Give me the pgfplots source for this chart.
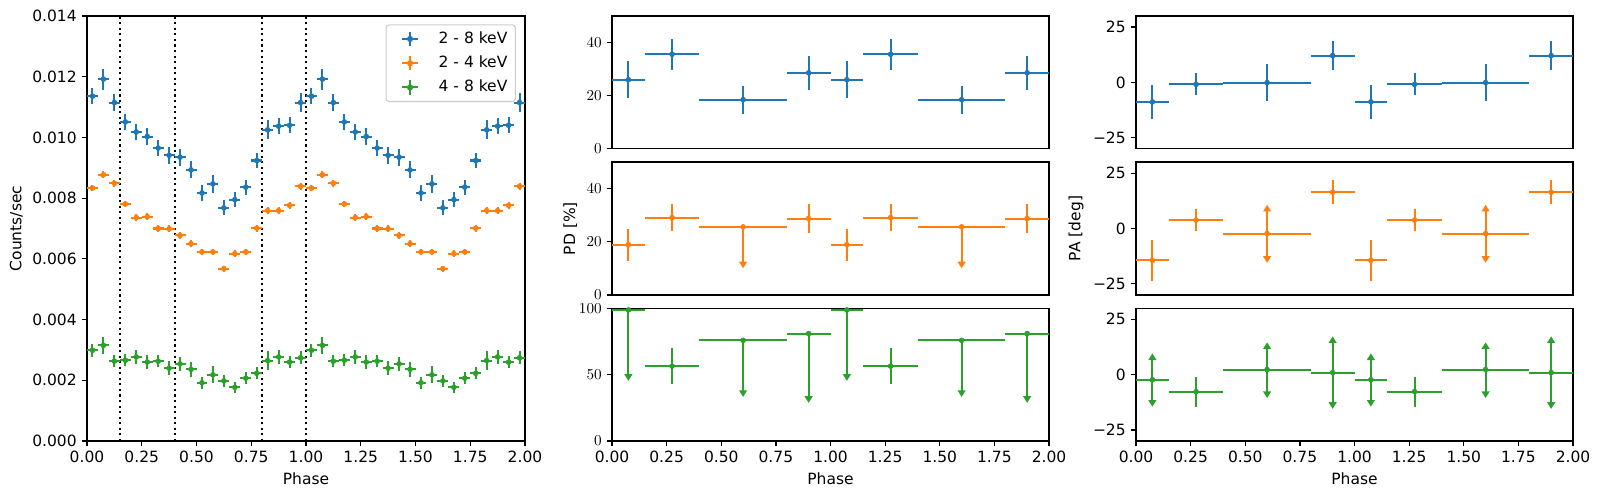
\documentclass[border=0pt]{standalone}
\usepackage{pgfplots}
\pgfplotsset{compat=1.18}
\usetikzlibrary{arrows.meta}
\usepackage{fontspec}
\setmainfont{DejaVu Sans}
\definecolor{tabblue}{HTML}{1F77B4}
\definecolor{taborange}{HTML}{FF7F0E}
\definecolor{tabgreen}{HTML}{2CA02C}
\newcommand{\fs}{\fontsize{11.2}{13.4}\selectfont}
\pgfplotsset{
  mpl/.style={scale only axis, anchor=south west,
    axis line style={line width=0.9bp},
    tick style={line width=0.9bp, black},
    tick align=outside, major tick length=3.9bp, tick pos=left,
    ticklabel style={font=\fs}, label style={font=\fs},
    xmin=0, xmax=2, xtick={0,0.25,0.5,0.75,1,1.25,1.5,1.75,2},
    xticklabels={0.00,0.25,0.50,0.75,1.00,1.25,1.50,1.75,2.00}},
  base/.style={color=#1, only marks, mark=*, mark size=1.8bp,
    mark options={fill=#1, draw=none},
    error bars/error bar style={line width=1.45bp, #1}},
  eb/.style={base=#1,
    error bars/x dir=both, error bars/x explicit, error bars/y dir=both, error bars/y explicit,
    error bars/error mark=none},
  ebx/.style={base=#1,
    error bars/x dir=both, error bars/x explicit, error bars/error mark=none},
  lim/.style={#1, line width=1.45bp, -{Triangle[width=5.6bp,length=4.8bp]},
    quiver={u=0, v=\thisrow{v}}},
  vl/.style={black, line width=1.5bp, dash pattern=on 1.5bp off 2.5bp, forget plot},
  leg/.style={legend image code/.code={\path[draw=none, fill=none] (0bp,-5.5bp) rectangle (32.1bp,5.5bp);
    \draw[#1, line width=1.45bp] (5.7bp,0bp)--(17.2bp,0bp) (11.45bp,-5.2bp)--(11.45bp,5.2bp);
    \fill[#1] (11.45bp,0bp) circle (1.8bp);}},
}
\begin{document}
\begin{tikzpicture}
\useasboundingbox (0,0) rectangle (1152.72bp,357.12bp);
% ---------------- left panel
\begin{axis}[mpl, at={(62.64bp,39.6bp)}, width=315.36bp, height=306bp,
  ymin=0, ymax=0.014, scaled y ticks=false,
  ytick={0,0.002,0.004,0.006,0.008,0.010,0.012,0.014},
  yticklabels={0.000,0.002,0.004,0.006,0.008,0.010,0.012,0.014},
  xlabel={Phase}, ylabel={Counts/sec},
  legend cell align=left,
  legend style={at={(1,1)}, anchor=north east, xshift=-6.5bp, yshift=-6bp,
    draw=black!20, line width=0.8bp, rounded corners=2.2bp, fill=white,
    font=\fs, inner xsep=5.8bp, inner ysep=4.2bp, row sep=5.6bp, column sep=0pt,
    nodes={inner xsep=0pt, inner ysep=0pt, text height=8.4bp, text depth=2.4bp}},
]
\addplot[vl] coordinates {(0.15,0) (0.15,0.014)};
\addplot[vl] coordinates {(0.4,0) (0.4,0.014)};
\addplot[vl] coordinates {(0.8,0) (0.8,0.014)};
\addplot[vl] coordinates {(1.0,0) (1.0,0.014)};
\addplot[forget plot, eb=tabblue] table[x=x, y=y, x error=ex, y error=ey] {
x y ex ey
0.025 0.01136 0.025 0.00026
0.075 0.01192 0.025 0.00035
0.125 0.01115 0.025 0.00027
0.175 0.01051 0.025 0.00027
0.225 0.01018 0.025 0.00027
0.275 0.01003 0.025 0.00027
0.325 0.00965 0.025 0.00027
0.375 0.00941 0.025 0.00027
0.425 0.00935 0.025 0.00028
0.475 0.00893 0.025 0.00028
0.525 0.00817 0.025 0.00025
0.575 0.00847 0.025 0.00030
0.625 0.00768 0.025 0.00025
0.675 0.00795 0.025 0.00025
0.725 0.00836 0.025 0.00025
0.775 0.00924 0.025 0.00026
0.825 0.01025 0.025 0.00031
0.875 0.01037 0.025 0.00027
0.925 0.01040 0.025 0.00027
0.975 0.01115 0.025 0.00030
1.025 0.01136 0.025 0.00026
1.075 0.01192 0.025 0.00035
1.125 0.01115 0.025 0.00027
1.175 0.01051 0.025 0.00027
1.225 0.01018 0.025 0.00027
1.275 0.01003 0.025 0.00027
1.325 0.00965 0.025 0.00027
1.375 0.00941 0.025 0.00027
1.425 0.00935 0.025 0.00028
1.475 0.00893 0.025 0.00028
1.525 0.00817 0.025 0.00025
1.575 0.00847 0.025 0.00030
1.625 0.00768 0.025 0.00025
1.675 0.00795 0.025 0.00025
1.725 0.00836 0.025 0.00025
1.775 0.00924 0.025 0.00026
1.825 0.01025 0.025 0.00031
1.875 0.01037 0.025 0.00027
1.925 0.01040 0.025 0.00027
1.975 0.01115 0.025 0.00030
};
\addplot[forget plot, eb=taborange] table[x=x, y=y, x error=ex, y error=ey] {
x y ex ey
0.025 0.00833 0.025 0.00011
0.075 0.00877 0.025 0.00011
0.125 0.00849 0.025 0.00011
0.175 0.00781 0.025 0.00011
0.225 0.00736 0.025 0.00011
0.275 0.00739 0.025 0.00011
0.325 0.00700 0.025 0.00011
0.375 0.00699 0.025 0.00011
0.425 0.00677 0.025 0.00011
0.475 0.00650 0.025 0.00011
0.525 0.00623 0.025 0.00011
0.575 0.00623 0.025 0.00011
0.625 0.00568 0.025 0.00010
0.675 0.00617 0.025 0.00011
0.725 0.00623 0.025 0.00011
0.775 0.00701 0.025 0.00011
0.825 0.00759 0.025 0.00011
0.875 0.00759 0.025 0.00011
0.925 0.00776 0.025 0.00011
0.975 0.00839 0.025 0.00011
1.025 0.00833 0.025 0.00011
1.075 0.00877 0.025 0.00011
1.125 0.00849 0.025 0.00011
1.175 0.00781 0.025 0.00011
1.225 0.00736 0.025 0.00011
1.275 0.00739 0.025 0.00011
1.325 0.00700 0.025 0.00011
1.375 0.00699 0.025 0.00011
1.425 0.00677 0.025 0.00011
1.475 0.00650 0.025 0.00011
1.525 0.00623 0.025 0.00011
1.575 0.00623 0.025 0.00011
1.625 0.00568 0.025 0.00010
1.675 0.00617 0.025 0.00011
1.725 0.00623 0.025 0.00011
1.775 0.00701 0.025 0.00011
1.825 0.00759 0.025 0.00011
1.875 0.00759 0.025 0.00011
1.925 0.00776 0.025 0.00011
1.975 0.00839 0.025 0.00011
};
\addplot[forget plot, eb=tabgreen] table[x=x, y=y, x error=ex, y error=ey] {
x y ex ey
0.025 0.00299 0.025 0.00022
0.075 0.00315 0.025 0.00028
0.125 0.00263 0.025 0.00020
0.175 0.00266 0.025 0.00020
0.225 0.00277 0.025 0.00022
0.275 0.00260 0.025 0.00024
0.325 0.00263 0.025 0.00020
0.375 0.00240 0.025 0.00022
0.425 0.00254 0.025 0.00022
0.475 0.00236 0.025 0.00024
0.525 0.00192 0.025 0.00020
0.575 0.00218 0.025 0.00028
0.625 0.00198 0.025 0.00020
0.675 0.00177 0.025 0.00018
0.725 0.00207 0.025 0.00020
0.775 0.00223 0.025 0.00020
0.825 0.00265 0.025 0.00030
0.875 0.00277 0.025 0.00022
0.925 0.00260 0.025 0.00020
0.975 0.00274 0.025 0.00022
1.025 0.00299 0.025 0.00022
1.075 0.00315 0.025 0.00028
1.125 0.00263 0.025 0.00020
1.175 0.00266 0.025 0.00020
1.225 0.00277 0.025 0.00022
1.275 0.00260 0.025 0.00024
1.325 0.00263 0.025 0.00020
1.375 0.00240 0.025 0.00022
1.425 0.00254 0.025 0.00022
1.475 0.00236 0.025 0.00024
1.525 0.00192 0.025 0.00020
1.575 0.00218 0.025 0.00028
1.625 0.00198 0.025 0.00020
1.675 0.00177 0.025 0.00018
1.725 0.00207 0.025 0.00020
1.775 0.00223 0.025 0.00020
1.825 0.00265 0.025 0.00030
1.875 0.00277 0.025 0.00022
1.925 0.00260 0.025 0.00020
1.975 0.00274 0.025 0.00022
};
\addlegendimage{leg=tabblue}
\addlegendentry{2 - 8 keV}
\addlegendimage{leg=taborange}
\addlegendentry{2 - 4 keV}
\addlegendimage{leg=tabgreen}
\addlegendentry{4 - 8 keV}
\end{axis}
% ---------------- middle column: PD
\begin{axis}[mpl, at={(440.64bp,250.0bp)}, width=314.64bp, height=95.6bp,
  xtick=\empty, ymin=0, ymax=50, ytick={0,20,40}]
\addplot[eb=tabblue] table[x=x, y=y, x error=ex, y error=ey] {
x y ex ey
0.075 26.0 0.075 7.0
0.275 35.6 0.125 5.9
0.6 18.5 0.2 5.3
0.9 28.6 0.1 6.4
1.075 26.0 0.075 7.0
1.275 35.6 0.125 5.9
1.6 18.5 0.2 5.3
1.9 28.6 0.1 6.4
};
\end{axis}
\begin{axis}[mpl, at={(440.64bp,144.8bp)}, width=314.64bp, height=95.6bp,
  xtick=\empty, ymin=0, ymax=50, ytick={0,20,40}, ylabel={PD [\%]}]
\addplot[eb=taborange] table[x=x, y=y, x error=ex, y error=ey] {
x y ex ey
0.075 18.9 0.075 6.0
0.275 29.1 0.125 5.0
0.9 28.75 0.1 5.5
1.075 18.9 0.075 6.0
1.275 29.1 0.125 5.0
1.9 28.75 0.1 5.5
};
\addplot[lim=taborange] table[x=x, y=y] {
x y v
0.6 25.6 -15.6
1.6 25.6 -15.6
};
\addplot[ebx=taborange] table[x=x, y=y, x error=ex] {
x y ex
0.6 25.6 0.2
1.6 25.6 0.2
};
\end{axis}
\begin{axis}[mpl, at={(440.64bp,39.6bp)}, width=314.64bp, height=95.6bp,
  ymin=0, ymax=100, ytick={0,50,100}, xlabel={Phase}]
\addplot[eb=tabgreen] table[x=x, y=y, x error=ex, y error=ey] {
x y ex ey
0.275 56.4 0.125 13.5
1.275 56.4 0.125 13.5
};
\addplot[lim=tabgreen] table[x=x, y=y] {
x y v
0.075 98.7 -53.4
0.6 75.8 -42.6
0.9 80.9 -52.2
1.075 98.7 -53.4
1.6 75.8 -42.6
1.9 80.9 -52.2
};
\addplot[ebx=tabgreen] table[x=x, y=y, x error=ex] {
x y ex
0.075 98.7 0.075
0.6 75.8 0.2
0.9 80.9 0.1
1.075 98.7 0.075
1.6 75.8 0.2
1.9 80.9 0.1
};
\end{axis}
% ---------------- right column: PA
\begin{axis}[mpl, at={(817.92bp,250.0bp)}, width=314.64bp, height=95.6bp,
  xtick=\empty, ymin=-30, ymax=30, ytick={-25,0,25}, yticklabels={−25,0,25}]
\addplot[eb=tabblue] table[x=x, y=y, x error=ex, y error=ey] {
x y ex ey
0.075 -8.8 0.075 7.6
0.275 -0.9 0.125 5.0
0.6 -0.1 0.2 8.3
0.9 12.1 0.1 6.7
1.075 -8.8 0.075 7.6
1.275 -0.9 0.125 5.0
1.6 -0.1 0.2 8.3
1.9 12.1 0.1 6.7
};
\end{axis}
\begin{axis}[mpl, at={(817.92bp,144.8bp)}, width=314.64bp, height=95.6bp,
  xtick=\empty, ymin=-30, ymax=30, ytick={-25,0,25}, yticklabels={−25,0,25},
  ylabel={PA [deg]}]
\addplot[eb=taborange] table[x=x, y=y, x error=ex, y error=ey] {
x y ex ey
0.075 -14.4 0.075 9.3
0.275 3.8 0.125 4.8
0.9 16.4 0.1 5.5
1.075 -14.4 0.075 9.3
1.275 3.8 0.125 4.8
1.9 16.4 0.1 5.5
};
\addplot[lim=taborange] table[x=x, y=y] {
x y v
0.6 -2.3 13.0
0.6 -2.3 -13.2
1.6 -2.3 13.0
1.6 -2.3 -13.2
};
\addplot[ebx=taborange] table[x=x, y=y, x error=ex] {
x y ex
0.6 -2.3 0.2
1.6 -2.3 0.2
};
\end{axis}
\begin{axis}[mpl, at={(817.92bp,39.6bp)}, width=314.64bp, height=95.6bp,
  ymin=-30, ymax=30, ytick={-25,0,25}, yticklabels={−25,0,25}, xlabel={Phase}]
\addplot[eb=tabgreen] table[x=x, y=y, x error=ex, y error=ey] {
x y ex ey
0.275 -7.7 0.125 6.8
1.275 -7.7 0.125 6.8
};
\addplot[lim=tabgreen] table[x=x, y=y] {
x y v
0.075 -2.3 11.9
0.075 -2.3 -12.2
0.6 2.3 12.3
0.6 2.3 -12.9
0.9 0.9 16.4
0.9 0.9 -16.4
1.075 -2.3 11.9
1.075 -2.3 -12.2
1.6 2.3 12.3
1.6 2.3 -12.9
1.9 0.9 16.4
1.9 0.9 -16.4
};
\addplot[ebx=tabgreen] table[x=x, y=y, x error=ex] {
x y ex
0.075 -2.3 0.075
0.6 2.3 0.2
0.9 0.9 0.1
1.075 -2.3 0.075
1.6 2.3 0.2
1.9 0.9 0.1
};
\end{axis}
\end{tikzpicture}
\end{document}
